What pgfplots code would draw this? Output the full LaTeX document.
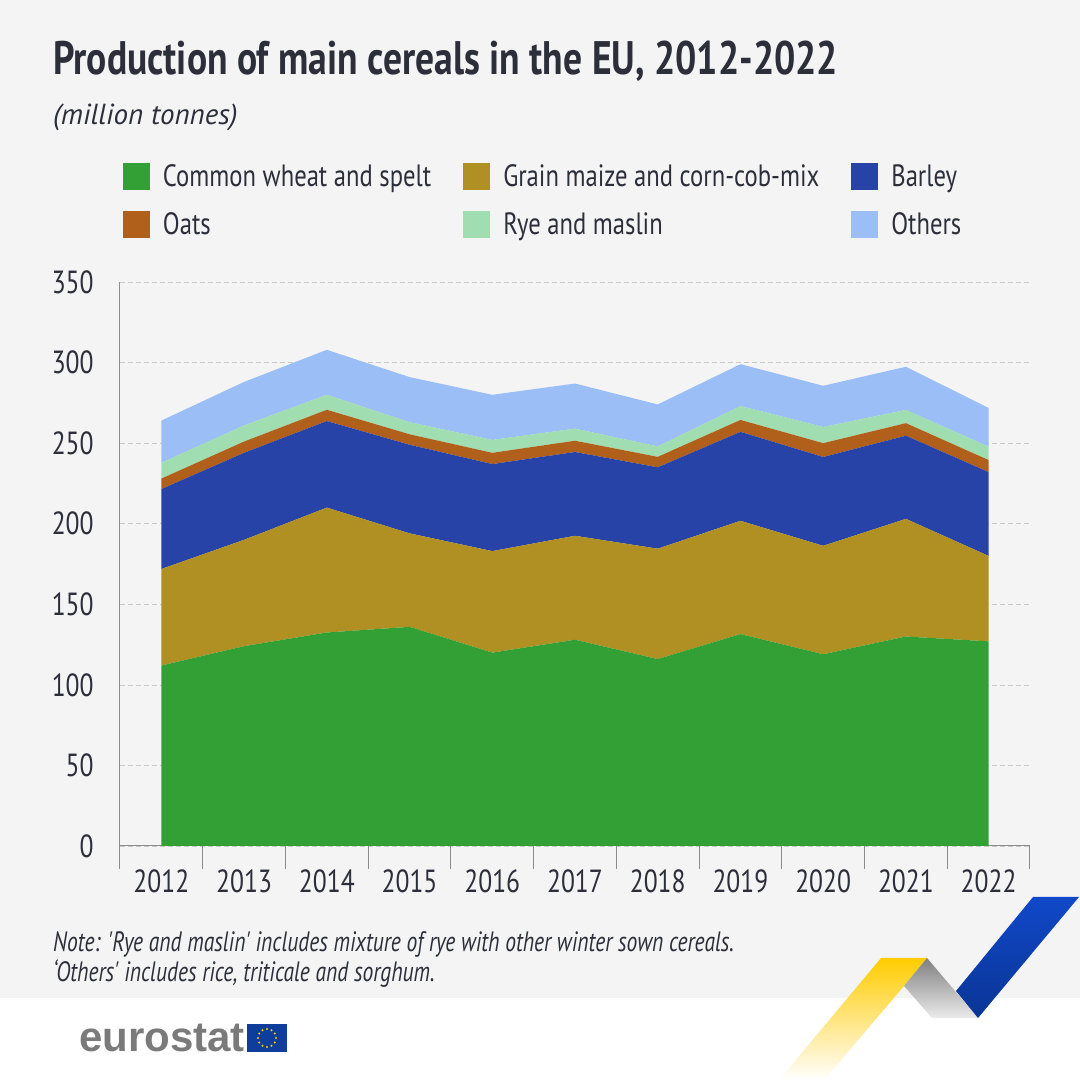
\documentclass[border=0pt]{standalone}
\usepackage{fontspec}
\setmainfont[FakeStretch=0.8]{PT Sans}
\newfontfamily\notefont[FakeStretch=0.77]{PT Sans}
\newfontfamily\subfont{PT Sans}
\newfontfamily\logofont{Liberation Sans}
\usepackage{pgfplots}
\usepackage{pgfplotstable}
\pgfplotsset{compat=1.18}

\definecolor{bggrey}{HTML}{F4F4F4}
\definecolor{txt}{HTML}{2C2F3A}
\definecolor{axisgrey}{HTML}{8C8C8C}
\definecolor{gridgrey}{HTML}{C8C8C8}
\definecolor{wheat}{HTML}{33A035}
\definecolor{maize}{HTML}{B09022}
\definecolor{barley}{HTML}{2743A8}
\definecolor{oats}{HTML}{B0601A}
\definecolor{rye}{HTML}{A0DDB0}
\definecolor{others}{HTML}{9CBEF7}
\definecolor{ribyellow}{HTML}{FFCC00}
\definecolor{ribblue}{HTML}{1048C8}
\definecolor{ribdark}{HTML}{0A3595}
\definecolor{flagblue}{HTML}{0F3D9C}

% stacked values, million tonnes
\pgfplotstableread{
year wheat maize barley oats rye others
2012 112   59.9  49.6   6.5  9.8 26.2
2013 124   66    54     7    10  27
2014 132.5 77.5  53.7   7    9.3 27.9
2015 136   58    55     6.5  7.5 28
2016 120   63    54     7    8   28
2017 128   64.5  52     7    7.5 28
2018 116   68.5  50.5   6.5  6.5 26
2019 131.5 70.3  55.2   7.4  8.6 26
2020 119   67.3  55.1   8.6  10  25.6
2021 130   73    51.6   7.8  8.2 26.8
2022 127   53    52     7.5  8.3 24
}\cereals

\begin{document}
\begin{tikzpicture}[x=1pt,y=1pt]
\useasboundingbox (0,0) rectangle (1080,1080);
\fill[white] (0,0) rectangle (1080,1080);
\fill[bggrey] (0,82) rectangle (1080,1080);

\begin{axis}[
    at={(120pt,234pt)}, anchor=south west,
    scale only axis,
    width=910pt, height=564pt,
    xmin=2011.5, xmax=2022.5,
    ymin=0, ymax=350,
    axis lines=left,
    axis line style={-, axisgrey, line width=1pt},
    xtick={2011.5,2012.5,...,2022.5},
    xticklabels={2012,2013,2014,2015,2016,2017,2018,2019,2020,2021,2022},
    x tick label as interval,
    ytick={0,50,...,350},
    tick align=outside,
    major tick length=23pt,
    x tick style={axisgrey, line width=1pt},
    y tick style={draw=none},
    ymajorgrids,
    grid style={gridgrey, dash pattern=on 5pt off 3pt, line width=0.7pt},
    tick label style={font=\fontsize{32}{32}\selectfont, text=txt, /pgf/number format/assume math mode=true},
    /pgf/number format/1000 sep={},
    xticklabel style={yshift=3pt},
    yticklabel style={xshift=0pt},
    stack plots=y,
    area style,
    axis on top=false,
    legend columns=3,
    legend cell align=left,
    legend image code/.code={\fill[#1] (0pt,-13.5pt) rectangle (27pt,13.5pt); \path (40pt,0pt);},
    legend style={
        at={(3pt,683pt)}, anchor=north west,
        draw=none, fill=none, inner sep=0pt, outer sep=0pt,
        font=\fontsize{30.8}{31}\selectfont, text=txt,
        row sep=21pt,
        nodes={inner sep=0pt, outer sep=0pt},
        /tikz/every even column/.append style={column sep=32pt},
    },
]
\addplot[fill=wheat, draw=none] table[x=year,y=wheat] {\cereals} \closedcycle;
\addplot[fill=maize, draw=none] table[x=year,y=maize] {\cereals} \closedcycle;
\addplot[fill=barley, draw=none] table[x=year,y=barley] {\cereals} \closedcycle;
\addplot[fill=oats, draw=none] table[x=year,y=oats] {\cereals} \closedcycle;
\addplot[fill=rye, draw=none] table[x=year,y=rye] {\cereals} \closedcycle;
\addplot[fill=others, draw=none] table[x=year,y=others] {\cereals} \closedcycle;
\legend{Common wheat and spelt, Grain maize and corn-cob-mix, Barley, Oats, Rye and maslin, Others}
\end{axis}

% headings
\node[anchor=base west, inner sep=0pt, text=txt, font=\fontsize{47}{47}\selectfont\bfseries] at (53,1005) {Production of main cereals in the EU, 2012-2022};
\node[anchor=base west, inner sep=0pt, text=txt, font=\subfont\itshape\fontsize{29}{29}\selectfont] at (53,955) {(million tonnes)};

% note
\node[anchor=base west, inner sep=0pt, text=txt, font=\notefont\itshape\fontsize{28}{28}\selectfont] at (53,128) {Note: 'Rye and maslin' includes mixture of rye with other winter sown cereals.};
\node[anchor=base west, inner sep=0pt, text=txt, font=\notefont\itshape\fontsize{28}{28}\selectfont] at (53,98) {‘Others' includes rice, triticale and sorghum.};

% ribbon
\begin{scope}
\clip (881,122) -- (927,122) -- (904,94) -- (825,1) -- (780,1) -- cycle;
\shade[top color=ribyellow, middle color=ribyellow, bottom color=white] (770,0) rectangle (940,122);
\end{scope}
\begin{scope}
\clip (927,122) -- (978,62) -- (932,62) -- (904,94) -- cycle;
\shade[top color=black!50, bottom color=black!8] (895,62) rectangle (985,122);
\end{scope}
\begin{scope}
\clip (1033,183) -- (1079,183) -- (978,62) -- (956,89) -- cycle;
\shade[top color=ribblue, middle color=ribblue, bottom color=ribdark] (950,62) rectangle (1080,183);
\end{scope}

% logo
\node[anchor=base west, inner sep=0pt, text=black!52, font=\logofont\bfseries\fontsize{42}{42}\selectfont] at (79,28) {eurostat};
\fill[flagblue] (247,28) rectangle (287,56);
\foreach \a in {0,30,...,330} \fill[ribyellow] (267,42) ++(\a:9) circle (1.2);
\end{tikzpicture}
\end{document}
